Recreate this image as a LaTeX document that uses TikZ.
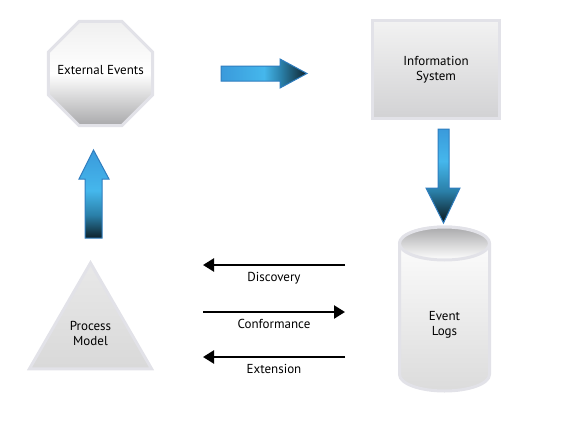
\documentclass[tikz,border=0pt]{standalone}
\usepackage{fontspec}
\setmainfont{PT Sans}
\usetikzlibrary{arrows.meta,shapes.geometric}
\definecolor{rim}{HTML}{E2E2E8}
\definecolor{blueA}{HTML}{3A9ADB}
\definecolor{blueB}{HTML}{45B7EC}
\definecolor{blueC}{HTML}{2A7FA8}
\definecolor{blueD}{HTML}{0E222B}
\definecolor{blueE}{HTML}{2F7DBF}
\definecolor{greyA}{HTML}{A9A9AB}
\definecolor{greyB}{HTML}{D2D2D4}
\pgfdeclarehorizontalshading{fatright}{100bp}{color(0bp)=(blueA); color(25bp)=(blueA);
  color(50bp)=(blueB); color(60bp)=(blueC); color(75bp)=(blueD); color(100bp)=(blueD)}
\pgfdeclareverticalshading{fatup}{100bp}{color(0bp)=(blueD); color(25bp)=(blueD);
  color(38bp)=(blueC); color(52bp)=(blueB); color(75bp)=(blueA); color(100bp)=(blueA)}
\pgfdeclareverticalshading{fatdown}{100bp}{color(0bp)=(blueD); color(27bp)=(blueD);
  color(42bp)=(blueC); color(58bp)=(blueB); color(75bp)=(blueA); color(100bp)=(blueA)}
\begin{document}
\begin{tikzpicture}[x=1pt, y=-1pt, font=\fontsize{13}{15}\selectfont,
    every node/.style={align=center, inner sep=0pt},
    greyshape/.style={draw=rim, line width=3pt, line join=miter},
    fat/.style={draw=blueE, line width=1pt},
    thinarrow/.style={line width=2.4pt, -{Triangle[length=11pt, width=13pt]}}]
  \useasboundingbox (0,0) rectangle (566,421);
  \node[greyshape, regular polygon, regular polygon sides=8, minimum size=112.6pt,
        top color=gray!12, bottom color=greyA, middle color=white,
        label={[yshift=3.5pt]center:External Events}] (ext) at (100.5,73.5) {};
  \node[greyshape, rectangle, minimum width=127pt, minimum height=98pt,
        top color=gray!10, bottom color=greyB] (info) at (436,69.5) {Information\\System};
  \node[greyshape, regular polygon, regular polygon sides=3, minimum size=141pt,
        top color=gray!18, bottom color=gray!30, label=center:{Process\\Model}] (proc) at (90.5,333.5) {};
  \path[greyshape, top color=white, bottom color=gray!28] (399.5,243.5) -- (399.5,374.5)
    arc[start angle=180, end angle=0, x radius=45, y radius=16.5] -- (489.5,243.5)
    arc[start angle=0, end angle=-180, x radius=45, y radius=16.5] -- cycle;
  \path[greyshape, top color=greyA, bottom color=white] (444.5,243.5) ellipse[x radius=45, y radius=16.5];
  \node (logs) at (444.5,325) {Event\\Logs};
  \path[fat, shading=fatright]
    (221,66) -- (280,66) -- (280,59) -- (307,73.5) -- (280,88) -- (280,81) -- (221,81) -- cycle;
  \path[fat, shading=fatup]
    (85,238) -- (85,179) -- (79,179) -- (93.5,150) -- (109,179) -- (102,179) -- (102,238) -- cycle;
  \path[fat, shading=fatdown]
    (438,129) -- (438,188) -- (426,188) -- (443.5,223) -- (460,188) -- (449,188) -- (449,129) -- cycle;
  \coordinate (discR) at (345,265);
  \coordinate (discL) at (203,265);
  \coordinate (confL) at (203,312);
  \coordinate (confR) at (345,312);
  \coordinate (extR) at (345,357);
  \coordinate (extL) at (203,357);
  \draw[thinarrow] (discR) -- (discL) node[midway, below=6pt] {Discovery};
  \draw[thinarrow] (confL) -- (confR) node[midway, below=6pt] {Conformance};
  \draw[thinarrow] (extR) -- (extL) node[midway, below=6pt] {Extension};
\end{tikzpicture}
\end{document}
